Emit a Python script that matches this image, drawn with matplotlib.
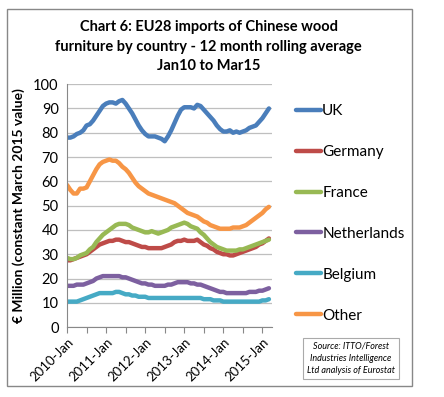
import matplotlib.pyplot as plt
from matplotlib.patches import Rectangle
import numpy as np

# monthly values Jan 2010 - Mar 2015, 12 month rolling average, EUR million
uk = [78, 78, 78.5, 79.5, 80, 81, 83, 83.5, 85, 87, 89, 91, 92, 92.5, 92.5, 92, 93, 93.5, 92, 90,
      88, 85.5, 83, 81, 79.5, 78.5, 78.5, 78.5, 78, 77.5, 76.5, 78.5, 81, 84, 87, 89.5, 90.5, 90.5,
      90.5, 90, 91.5, 91, 89.5, 88, 86.5, 85, 83, 81.5, 80.5, 80.5, 81, 80, 80.5, 80, 80.5, 81, 82,
      82.5, 83, 84.5, 86, 88, 90]
germany = [27.5, 27.5, 28, 28.5, 29, 29.5, 30, 31, 32, 33, 34, 34.5, 35, 35.5, 35.5, 36, 36, 35.5,
           35, 35, 34.5, 34, 33.5, 33, 33, 32.5, 32.5, 32.5, 32.5, 32.5, 33, 33.5, 34, 35, 35.5,
           35.5, 36, 35.5, 35.5, 35.5, 36, 35, 34, 33.5, 32.5, 32, 31, 30.5, 30, 30, 29.5, 29.5, 30,
           30.5, 31, 31.5, 32, 32.5, 33, 34, 34.5, 35.5, 36.5]
france = [28.5, 28, 28, 28.5, 29.5, 30, 30.5, 32, 33, 35, 36.5, 38, 39, 40, 41, 42, 42.5, 42.5,
          42.5, 42, 41, 40.5, 40, 39.5, 39, 39, 39.5, 39, 38.5, 39, 39.5, 40, 41, 41.5, 42, 42.5,
          43, 42.5, 41.5, 41, 40.5, 39, 38, 36.5, 35, 34, 33, 32.5, 32, 31.5, 31.5, 31.5, 31.5, 32,
          32, 32.5, 33, 33.5, 34, 34.5, 35, 35.5, 36]
netherlands = [17, 17, 17, 17.5, 17.5, 17.5, 18, 18.5, 19, 20, 20.5, 21, 21, 21, 21, 21, 21, 20.5,
               20.5, 20, 19.5, 19, 18.5, 18, 18, 17.5, 17.5, 17, 17, 17, 17, 17.5, 17.5, 18, 18.5,
               18.5, 18.5, 18.5, 18, 18, 17.5, 17.5, 17, 16.5, 16, 15.5, 15, 14.5, 14.5, 14, 14, 14,
               14, 14, 14, 14, 14.5, 14.5, 14.5, 15, 15, 15.5, 16]
belgium = [10.5, 10.5, 10.5, 10.5, 11, 11.5, 12, 12.5, 13, 13.5, 14, 14, 14, 14, 14, 14.5, 14.5,
           14, 13.5, 13.5, 13, 13, 12.5, 12.5, 12.5, 12, 12, 12, 12, 12, 12, 12, 12, 12, 12, 12, 12,
           12, 12, 12, 12, 12, 11.5, 11.5, 11.5, 11, 11, 11, 10.5, 10.5, 10.5, 10.5, 10.5, 10.5,
           10.5, 10.5, 10.5, 10.5, 10.5, 10.5, 11, 11, 11.5]
other = [58.5, 56.5, 55, 55, 57, 57, 57.5, 60, 62.5, 65, 67, 68, 68.5, 69, 68.5, 68.5, 67.5, 66, 65,
         63.5, 61.5, 59.5, 58, 57, 56, 55, 54.5, 54, 53.5, 53, 52.5, 52, 51.5, 51, 50, 49, 48, 47,
         46.5, 46, 45.5, 44.5, 43.5, 43, 42, 41.5, 41, 40.5, 40.5, 40.5, 40.5, 41, 41, 41, 41.5, 42,
         43, 44, 45, 46, 47, 48.5, 49.5]

series = ['UK', 'Germany', 'France', 'Netherlands', 'Belgium', 'Other']
values = [uk, germany, france, netherlands, belgium, other]
colors = ['#4A7EBB', '#BE4B48', '#98B954', '#7D60A0', '#46AAC5', '#F79646']
year_labels = ['2010-Jan', '2011-Jan', '2012-Jan', '2013-Jan', '2014-Jan', '2015-Jan']

plt.rcParams['font.family'] = ['Lato', 'DejaVu Sans']

fig = plt.figure(figsize=(4.44, 3.97), dpi=100)
ax = fig.add_axes([0.151, 0.176, 0.462, 0.612])

# outer border of chart
fig.patches.append(Rectangle((7 / 444, 1 - 386 / 397), 405 / 444, 377 / 397,
                             transform=fig.transFigure, fill=False, edgecolor='#888888', lw=1))

months = np.arange(len(uk))
for name, vals, c in zip(series, values, colors):
    ax.plot(months, vals, color=c, linewidth=3.2, label=name, solid_capstyle='round')

ax.set_xlim(0, 63)
ax.set_ylim(0, 100)
ax.set_yticks(range(0, 101, 10))
ax.set_xticks(range(0, 63, 6), minor=False)
ax.set_xticklabels([year_labels[i // 2] if i % 2 == 0 else '' for i in range(11)],
                   rotation=45, ha='right', rotation_mode='anchor', fontsize=9.5)
ax.tick_params(axis='x', direction='out', length=4, color='#888888', pad=2)
ax.tick_params(axis='y', length=0, labelsize=10.5, pad=6)
ax.grid(axis='y', color='#BFBFBF', linewidth=0.9)
ax.set_axisbelow(True)
for s in ['top', 'right']:
    ax.spines[s].set_visible(False)
ax.spines['left'].set_color('#888888')
ax.spines['bottom'].set_color('#888888')

ax.set_ylabel('€ Million (constant March 2015 value)', fontsize=10, fontweight='bold', labelpad=6)

fig.text(0.47, 1 - 27 / 397, 'Chart 6: EU28 imports of Chinese wood', ha='center', va='center',
         fontsize=10.5, fontweight='bold')
fig.text(0.47, 1 - 47 / 397, 'furniture by country - 12 month rolling average', ha='center',
         va='center', fontsize=10.5, fontweight='bold')
fig.text(0.47, 1 - 66 / 397, 'Jan10 to Mar15', ha='center', va='center',
         fontsize=10.5, fontweight='bold')

leg = ax.legend(loc='upper left', bbox_to_anchor=(1.117, 0.918), frameon=False, fontsize=11,
                handlelength=1.6, handletextpad=0.1, labelspacing=1.76,
                borderpad=0, borderaxespad=0)

# source box
fig.patches.append(Rectangle((303 / 444, 1 - 379 / 397), 96 / 444, 41 / 397,
                             transform=fig.transFigure, fill=False, edgecolor='#AAAAAA', lw=0.8))
fig.text(351 / 444, 1 - 358.5 / 397,
         'Source: ITTO/Forest\nIndustries Intelligence\nLtd analysis of Eurostat',
         ha='center', va='center', fontsize=6.5, style='italic', linespacing=1.45)

plt.savefig('out.png', dpi=100)
